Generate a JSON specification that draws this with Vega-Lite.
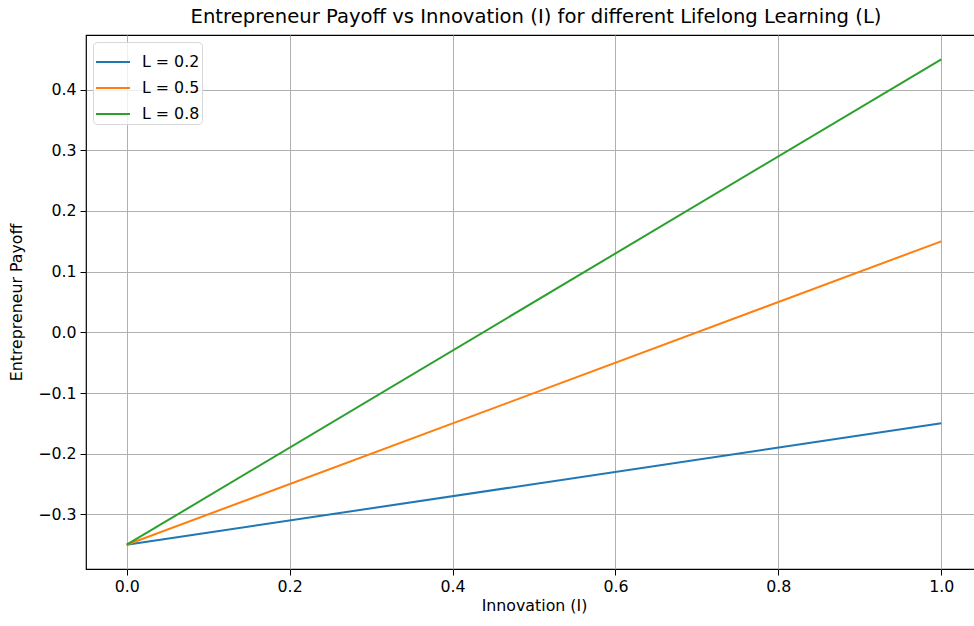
{
  "$schema": "https://vega.github.io/schema/vega-lite/v6.json",
  "width": 896,
  "height": 534,
  "autosize": "none",
  "padding": {"left": 86, "top": 35, "right": 0, "bottom": 57},
  "background": "white",
  "title": {"text": "Entrepreneur Payoff vs Innovation (I) for different Lifelong Learning (L)", "font": "DejaVu Sans", "fontSize": 19.6, "fontWeight": "normal", "color": "#000000", "offset": 7, "anchor": "middle", "dx": 2},
  "config": {
    "view": {"stroke": "#000000", "strokeWidth": 1.2},
    "font": "DejaVu Sans",
    "axis": {"labelFont": "DejaVu Sans", "titleFont": "DejaVu Sans", "labelFontSize": 15.8, "titleFontSize": 15.8, "titleFontWeight": "normal", "labelColor": "#000000", "titleColor": "#000000", "gridColor": "#b0b0b0", "gridWidth": 1, "tickColor": "#000000", "tickSize": 6, "domain": false, "labelPadding": 4}
  },
  "data": {"values": [
    {"I": 0.0, "payoff": -0.35, "L": "L = 0.2"},
    {"I": 1.0, "payoff": -0.15, "L": "L = 0.2"},
    {"I": 0.0, "payoff": -0.35, "L": "L = 0.5"},
    {"I": 1.0, "payoff": 0.15, "L": "L = 0.5"},
    {"I": 0.0, "payoff": -0.35, "L": "L = 0.8"},
    {"I": 1.0, "payoff": 0.45, "L": "L = 0.8"}
  ]},
  "mark": {"type": "line", "strokeWidth": 2, "clip": true},
  "encoding": {
    "x": {"field": "I", "type": "quantitative", "scale": {"domain": [-0.05, 1.05], "nice": false, "zero": false},
      "axis": {"values": [0, 0.2, 0.4, 0.6, 0.8, 1.0], "format": ".1f", "title": "Innovation (I)", "titlePadding": 5}},
    "y": {"field": "payoff", "type": "quantitative", "scale": {"domain": [-0.39, 0.49], "nice": false, "zero": false},
      "axis": {"values": [-0.3, -0.2, -0.1, 0, 0.1, 0.2, 0.3, 0.4], "format": ".1f", "title": "Entrepreneur Payoff", "titlePadding": 13}},
    "color": {"field": "L", "type": "nominal", "scale": {"range": ["#1f77b4", "#ff7f0e", "#2ca02c"]},
      "legend": {"title": null, "orient": "top-left", "offset": 7, "symbolType": "stroke", "symbolStrokeWidth": 2, "symbolSize": 1156, "labelFontSize": 15.8, "labelFont": "DejaVu Sans", "labelColor": "#000000", "fillColor": "rgba(255,255,255,0.8)", "strokeColor": "#d8d8d8", "cornerRadius": 4, "padding": 2, "rowPadding": -5, "labelOffset": 11}}
  }
}
